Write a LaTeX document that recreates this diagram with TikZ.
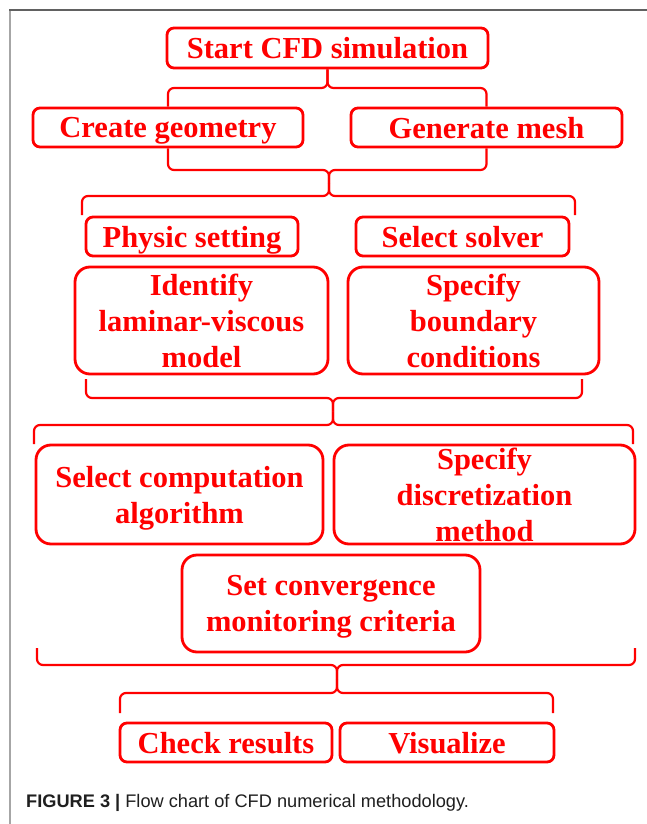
\documentclass[tikz,border=0pt]{standalone}
\usepackage{fontspec}
\setmainfont{Liberation Serif}
\newfontfamily\capfont{Liberation Sans}
\usetikzlibrary{calc}

\begin{document}
\begin{tikzpicture}[x=1pt, y=-1pt,
  box/.style={draw=red, line width=2.8pt, text=red, rounded corners=7pt,
    inner sep=0pt, align=center, text depth=0pt,
    font=\fontsize{30.5}{36}\selectfont\bfseries},
  bigbox/.style={box, rounded corners=15pt},
  link/.style={draw=red, line width=2.2pt, rounded corners=6pt},
  frame/.style={line width=2pt}]

\useasboundingbox (0,0) rectangle (647,824);
\fill[white] (0,0) rectangle (647,824);

% open frame: top and left edges
\draw[frame, black!35] (10,10) -- (10,824);
\draw[frame, black!62] (9,10) -- (647,10);

% process boxes
\node[box, minimum width=321pt, minimum height=40pt] (start) at (327.5,48) {Start CFD simulation};
\node[box, minimum width=270pt, minimum height=39pt] (geo) at (168,127.5) {Create geometry};
\node[box, minimum width=271pt, minimum height=39pt] (mesh) at (486.5,127.5) {Generate mesh};
\node[box, minimum width=212pt, minimum height=39pt] (phys) at (192,236.5) {Physic setting};
\node[box, minimum width=213pt, minimum height=39pt] (solver) at (462.5,236.5) {Select solver};
\node[bigbox, minimum width=253pt, minimum height=107pt] (ident) at (201.5,320.5) {Identify\\laminar-viscous\\model};
\node[bigbox, minimum width=251pt, minimum height=107pt] (bound) at (473.5,320.5) {Specify\\boundary\\conditions};
\node[bigbox, minimum width=287pt, minimum height=99pt] (comp) at (179.5,494.5) {Select computation\\algorithm};
\node[bigbox, minimum width=301pt, minimum height=99pt] (disc) at (484.5,494.5) {Specify\\discretization\\method};
\node[bigbox, minimum width=298pt, minimum height=97pt] (conv) at (331,603.5) {Set convergence\\monitoring criteria};
\node[box, minimum width=212pt, minimum height=39pt] (check) at (226,742.5) {Check results};
\node[box, minimum width=214pt, minimum height=39pt] (vis) at (447,742.5) {Visualize};

% brace: start -> geometry / mesh
\coordinate (bar1) at (0,88);
\draw[link] (start.south) |- (geo.north |- bar1) -- (geo.north);
\draw[link] (start.south) |- (mesh.north |- bar1) -- (mesh.north);

% brace pair: geometry / mesh -> physic setting / solver row
\coordinate (j1) at (329,183);
\coordinate (l1a) at (82,215);
\coordinate (l1b) at (575,215);
\draw[link] (geo.south) |- ($(j1)+(0,-13)$) -- (j1);
\draw[link] (mesh.south) |- ($(j1)+(0,-13)$) -- (j1);
\draw[link] (j1) -- ($(j1)+(0,13)$) -| (l1a);
\draw[link] (j1) -- ($(j1)+(0,13)$) -| (l1b);

% brace pair: model / boundary -> algorithm / discretization row
\coordinate (u2a) at (86,379);
\coordinate (u2b) at (582,379);
\coordinate (j2) at (333,411.5);
\coordinate (l2a) at (34,444);
\coordinate (l2b) at (633,444);
\draw[link] (u2a) |- ($(j2)+(0,-13.5)$) -- (j2);
\draw[link] (u2b) |- ($(j2)+(0,-13.5)$) -- (j2);
\draw[link] (j2) -- ($(j2)+(0,13.5)$) -| (l2a);
\draw[link] (j2) -- ($(j2)+(0,13.5)$) -| (l2b);

% brace pair: solution setup -> results
\coordinate (u3a) at (37,648);
\coordinate (u3b) at (635,648);
\coordinate (j3) at (337,679);
\coordinate (l3a) at (120,713);
\coordinate (l3b) at (553,713);
\draw[link] (u3a) |- ($(j3)+(0,-14)$) -- (j3);
\draw[link] (u3b) |- ($(j3)+(0,-14)$) -- (j3);
\draw[link] (j3) -- ($(j3)+(0,14)$) -| (l3a);
\draw[link] (j3) -- ($(j3)+(0,14)$) -| (l3b);

% caption
\node[anchor=base west, inner sep=0pt, text=black!88,
  font=\capfont\fontsize{18.2}{22}\selectfont] (caption) at (26,807)
  {\textbf{FIGURE 3 |} Flow chart of CFD numerical methodology.};
\end{tikzpicture}
\end{document}
